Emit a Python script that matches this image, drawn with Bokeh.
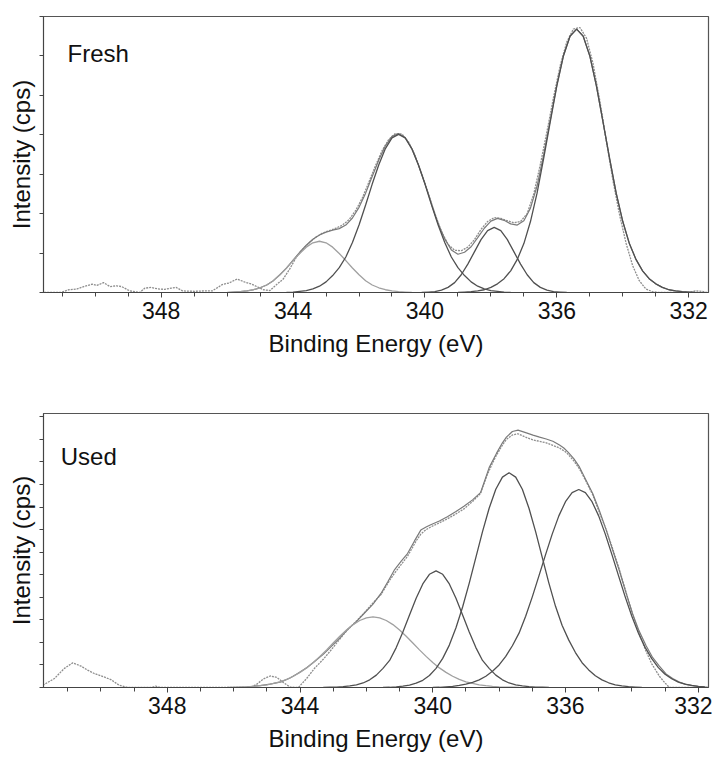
from bokeh.plotting import figure
from bokeh.layouts import column
from bokeh.models import Range1d, FixedTicker, Label
from bokeh.embed import file_html
from bokeh.resources import INLINE

FONT = "Liberation Sans"

# ---------------- data ----------------
x_major_ticks = [332, 336, 340, 344, 348]
x_minor_ticks = list(range(332, 352))
x_axis_title = "Binding Energy (eV)"
y_axis_title = "Intensity (cps)"
panel_names = ["Fresh", "Used"]


def grid(start, n, step=0.2):
    return [round(start - step * i, 2) for i in range(n)]


# Fresh sample: fitted components
fresh_A_y = [0.00, 0.01, 0.02, 0.04, 0.07, 0.13, 0.22, 0.35, 0.55, 0.84, 1.24, 1.80, 2.52, 3.40, 4.33, 5.24,
             6.00, 6.50, 6.68, 6.50, 6.00, 5.24, 4.33, 3.40, 2.52, 1.80, 1.24, 0.84, 0.55, 0.35, 0.22, 0.13,
             0.07, 0.04, 0.02, 0.01, 0.00]
fresh_A_x = grid(339.0, len(fresh_A_y))
fresh_B_y = [0.00, 0.01, 0.03, 0.05, 0.09, 0.16, 0.27, 0.43, 0.63, 0.90, 1.27, 1.71, 2.22, 2.75, 3.24, 3.65,
             3.92, 4.01, 3.92, 3.65, 3.24, 2.75, 2.22, 1.71, 1.27, 0.90, 0.63, 0.43, 0.27, 0.16, 0.09, 0.05,
             0.03, 0.01, 0.00]
fresh_B_x = grid(344.2, len(fresh_B_y))
fresh_C_y = [0.00, 0.01, 0.02, 0.06, 0.13, 0.25, 0.45, 0.72, 1.03, 1.34, 1.57, 1.65, 1.57, 1.34, 1.03, 0.72,
             0.45, 0.25, 0.13, 0.06, 0.02, 0.01, 0.00]
fresh_C_x = grid(340.1, len(fresh_C_y))
fresh_D_y = [0.00, 0.01, 0.02, 0.04, 0.07, 0.12, 0.19, 0.30, 0.45, 0.62, 0.81, 0.99, 1.15, 1.26, 1.30, 1.26,
             1.15, 0.99, 0.81, 0.62, 0.45, 0.30, 0.19, 0.12, 0.07, 0.04, 0.02, 0.01, 0.00]
fresh_D_x = grid(346.0, len(fresh_D_y))
# Fresh sample: fit envelope
fresh_env_y = [0.00, 0.01, 0.02, 0.04, 0.07, 0.12, 0.19, 0.30, 0.45, 0.62, 0.82, 1.02, 1.20, 1.35, 1.46, 1.53,
               1.58, 1.62, 1.71, 1.89, 2.16, 2.52, 2.94, 3.36, 3.72, 3.96, 4.03, 3.93, 3.65, 3.24, 2.76, 2.24,
               1.75, 1.36, 1.08, 0.97, 1.02, 1.16, 1.39, 1.63, 1.81, 1.88, 1.83, 1.74, 1.71, 1.82, 2.14, 2.70,
               3.49, 4.37, 5.26, 6.01, 6.50, 6.68, 6.50, 6.00, 5.24, 4.33, 3.40, 2.52, 1.80, 1.24, 0.84, 0.55,
               0.35, 0.22, 0.13, 0.07, 0.04, 0.02, 0.01, 0.00]
fresh_env_x = grid(346.0, len(fresh_env_y))
# Fresh sample: measured spectrum
fresh_exp_x = [351.55, 351.05, 350.80, 350.55, 350.35, 350.10, 349.95, 349.75, 349.55, 349.35, 349.20, 348.95,
               348.65, 348.50, 348.30, 348.10, 347.90, 347.70, 347.55, 347.35, 347.00, 346.70, 346.45, 346.15,
               345.95, 345.70, 345.45, 345.25, 345.00, 344.90, 344.70, 344.50, 344.30, 344.10, 343.90, 343.70,
               343.50, 343.30, 343.10, 342.90, 342.70, 342.50, 342.30, 342.10, 341.90, 341.70, 341.50, 341.30,
               341.10, 340.90, 340.70, 340.50, 340.30, 340.10, 339.90, 339.70, 339.50, 339.30, 339.10, 338.90,
               338.70, 338.50, 338.30, 338.10, 337.90, 337.70, 337.50, 337.30, 337.10, 336.90, 336.70, 336.50,
               336.30, 336.10, 335.90, 335.70, 335.50, 335.30, 335.10, 334.90, 334.70, 334.50, 334.30, 334.10,
               333.90, 333.70, 333.50, 333.30, 333.10, 332.90, 332.50, 332.00, 331.80, 331.60, 331.45]
fresh_exp_y = [0.00, 0.00, 0.07, 0.09, 0.15, 0.21, 0.18, 0.25, 0.15, 0.17, 0.15, 0.04,
               0.00, 0.11, 0.13, 0.09, 0.08, 0.11, 0.13, 0.04, 0.03, 0.04, 0.04, 0.20,
               0.24, 0.34, 0.26, 0.21, 0.11, 0.07, 0.05, 0.20, 0.34, 0.60, 0.90, 1.10,
               1.27, 1.41, 1.51, 1.57, 1.63, 1.71, 1.85, 2.08, 2.40, 2.80, 3.22, 3.60,
               3.88, 4.03, 4.02, 3.82, 3.48, 3.02, 2.52, 2.00, 1.55, 1.22, 1.07, 1.06,
               1.15, 1.34, 1.60, 1.80, 1.90, 1.88, 1.82, 1.77, 1.80, 2.00, 2.50, 3.25,
               4.08, 4.95, 5.75, 6.35, 6.68, 6.72, 6.45, 5.80, 4.88, 3.85, 2.85, 1.98,
               1.25, 0.68, 0.30, 0.09, 0.02, 0.00, 0.00, 0.00, 0.04, 0.03, 0.00]

# Used sample: fitted components
used_E1_y = [0.00, 0.01, 0.03, 0.05, 0.09, 0.15, 0.23, 0.34, 0.50, 0.72, 1.00, 1.38, 1.85, 2.41, 3.16, 4.02,
             4.95, 5.89, 6.80, 7.61, 8.24, 8.64, 8.78, 8.64, 8.24, 7.61, 6.80, 5.89, 4.95, 4.02, 3.16, 2.41,
             1.78, 1.28, 0.88, 0.59, 0.39, 0.24, 0.15, 0.09, 0.05, 0.03]
used_E1_x = grid(340.0, len(used_E1_y))
used_E2_y = [0.00, 0.01, 0.03, 0.06, 0.11, 0.19, 0.32, 0.53, 0.85, 1.29, 1.88, 2.65, 3.57, 4.63, 5.77, 6.91,
             7.95, 8.79, 9.33, 9.52, 9.33, 8.79, 7.95, 6.91, 5.77, 4.63, 3.60, 2.75, 2.10, 1.55, 1.10, 0.78,
             0.52, 0.34, 0.21, 0.12, 0.07, 0.04, 0.02, 0.00]
used_E2_x = grid(341.5, len(used_E2_y))
used_E3_y = [0.00, 0.01, 0.02, 0.04, 0.07, 0.12, 0.20, 0.34, 0.55, 0.85, 1.20, 1.77, 2.46, 3.21, 3.96, 4.59,
             5.02, 5.17, 5.02, 4.59, 3.96, 3.21, 2.46, 1.77, 1.20, 0.85, 0.55, 0.34, 0.20, 0.12, 0.07, 0.04,
             0.02, 0.01, 0.00]
used_E3_x = grid(343.3, len(used_E3_y))
used_E4_y = [0.00, 0.01, 0.02, 0.03, 0.05, 0.08, 0.12, 0.18, 0.25, 0.36, 0.50, 0.67, 0.87, 1.11, 1.38, 1.67,
             1.97, 2.27, 2.55, 2.79, 2.97, 3.09, 3.13, 3.09, 2.97, 2.79, 2.55, 2.27, 1.97, 1.67, 1.38, 1.11,
             0.87, 0.67, 0.50, 0.36, 0.25, 0.18, 0.12, 0.08, 0.05, 0.03, 0.02, 0.01, 0.00]
used_E4_x = grid(346.2, len(used_E4_y))
# Used sample: fit envelope
used_env_x = [346.0, 345.6, 345.2, 344.9, 344.57, 344.3, 344.07, 343.8, 343.57, 343.3, 343.07, 342.8, 342.57,
              342.3, 342.07, 341.8, 341.56, 341.35, 341.16, 340.95, 340.76, 340.55, 340.36, 340.2, 340.06,
              339.8, 339.56, 339.3, 339.06, 338.8, 338.56, 338.45, 338.3, 338.08, 337.9, 337.78, 337.6, 337.43,
              337.2, 336.98, 336.78, 336.58, 336.38, 336.18, 336.05, 335.93, 335.75, 335.58, 335.4, 335.18,
              334.98, 334.77, 334.58, 334.38, 334.18, 333.98, 333.78, 333.57, 333.37, 333.17, 332.97, 332.77,
              332.57, 332.37, 332.17, 331.97, 331.7]
used_env_y = [0.00, 0.03, 0.08, 0.15, 0.25, 0.42, 0.62, 0.88, 1.14, 1.47, 1.80, 2.20, 2.57,
              2.92, 3.28, 3.70, 4.17, 4.70, 5.20, 5.60, 5.94, 6.50, 6.98, 7.12, 7.22,
              7.38, 7.57, 7.80, 8.04, 8.32, 8.64, 9.10, 9.75, 10.38, 10.85, 11.10, 11.35, 11.41,
              11.30, 11.19, 11.10, 11.02, 10.92, 10.75, 10.62, 10.45, 10.15, 9.78, 9.25, 8.60,
              7.85, 6.98, 6.10, 5.20, 4.22, 3.28, 2.50, 1.85, 1.32, 0.95, 0.60, 0.40,
              0.24, 0.14, 0.08, 0.04, 0.01]
# Used sample: measured spectrum
used_exp_x = [351.75, 351.4, 351.1, 350.85, 350.6, 350.4, 350.2, 350.0, 349.7, 349.45, 349.2, 348.5, 348.35,
              348.2, 345.5, 345.3, 345.1, 344.9, 344.7, 344.5, 344.3, 344.05, 343.8, 343.57, 343.3, 343.07,
              342.8, 342.57, 342.3, 342.07, 341.8, 341.56, 341.3, 341.16, 340.9, 340.76, 340.5, 340.36, 340.2,
              340.06, 339.8, 339.56, 339.3, 339.06, 338.8, 338.56, 338.38, 338.2, 338.08, 337.9, 337.78, 337.6,
              337.43, 337.2, 336.98, 336.8, 336.58, 336.4, 336.18, 336.0, 335.93, 335.75, 335.58, 335.4,
              335.18, 335.0, 334.77, 334.6, 334.38, 334.2, 333.98, 333.8, 333.57, 333.4, 333.17, 333.0,
              332.87, 331.7]
used_exp_y = [0.10, 0.40, 0.85, 1.09, 0.95, 0.77, 0.62, 0.52, 0.35, 0.10, 0.00, 0.00, 0.06,
              0.00, 0.00, 0.15, 0.38, 0.51, 0.45, 0.22, 0.02, 0.00, 0.40, 0.84, 1.25, 1.65,
              2.15, 2.55, 2.95, 3.30, 3.75, 4.12, 4.75, 5.05, 5.55, 5.82, 6.50, 6.80, 7.00,
              7.12, 7.30, 7.48, 7.70, 7.92, 8.25, 8.60, 9.35, 9.95, 10.30, 10.75, 11.00, 11.20,
              11.25, 11.10, 10.98, 10.92, 10.85, 10.75, 10.62, 10.45, 10.35, 10.05, 9.70, 9.20,
              8.55, 7.85, 6.98, 6.25, 5.25, 4.35, 3.25, 2.45, 1.60, 1.05, 0.50, 0.20,
              0.00, 0.00]

# ---------------- styling / layout ----------------
COMP = "#505050"
COMP_LIGHT = "#a0a0a0"
ENV = "#7a7a7a"
EXP = "#8e8e8e"


def make_fig(width, height, xr, yr, ymax_tick, bl, br, bt, bb, title_standoff):
    p = figure(width=width, height=height, x_range=Range1d(*xr), y_range=Range1d(*yr),
               output_backend="svg", toolbar_location=None, tools="",
               min_border_left=bl, min_border_right=br, min_border_top=bt, min_border_bottom=bb)
    p.grid.visible = False
    p.outline_line_color = "#555555"
    p.outline_line_width = 1.2
    p.background_fill_color = "white"
    p.border_fill_color = "white"

    xa = p.xaxis[0]
    xa.ticker = FixedTicker(ticks=x_major_ticks, minor_ticks=x_minor_ticks)
    xa.axis_label = x_axis_title
    xa.axis_label_text_font = FONT
    xa.axis_label_text_font_size = "24px"
    xa.axis_label_text_font_style = "normal"
    xa.axis_label_text_color = "#111111"
    xa.axis_label_standoff = title_standoff
    xa.major_label_text_font = FONT
    xa.major_label_text_font_size = "23px"
    xa.major_label_text_color = "#111111"
    xa.major_label_standoff = 4
    xa.major_tick_in = 0
    xa.major_tick_out = 5
    xa.minor_tick_in = 0
    xa.minor_tick_out = 4
    xa.axis_line_color = "#444444"
    xa.major_tick_line_color = "#444444"
    xa.minor_tick_line_color = "#444444"

    # y axis: unlabelled ticks only (drawn as minor ticks so no tick labels exist)
    ya = p.yaxis[0]
    ya.ticker = FixedTicker(ticks=[], minor_ticks=list(range(0, ymax_tick + 1)))
    ya.axis_label = y_axis_title
    ya.axis_label_text_font = FONT
    ya.axis_label_text_font_size = "24px"
    ya.axis_label_text_font_style = "normal"
    ya.axis_label_text_color = "#111111"
    ya.axis_label_standoff = 5
    ya.major_label_standoff = 0
    ya.major_tick_in = 0
    ya.major_tick_out = 0
    ya.minor_tick_in = 0
    ya.minor_tick_out = 4
    ya.axis_line_color = "#444444"
    ya.minor_tick_line_color = "#444444"
    return p


# Top panel: Fresh
p1 = make_fig(712, 403, (351.57, 331.40), (0, 7.0), 7, 43, 2, 16, 111, 8)
p1.line(fresh_exp_x, fresh_exp_y, line_color=EXP, line_width=1.3, line_dash="2 1")
p1.line(fresh_env_x, fresh_env_y, line_color=ENV, line_width=1.2)
p1.line(fresh_D_x, fresh_D_y, line_color=COMP_LIGHT, line_width=1.3)
p1.line(fresh_C_x, fresh_C_y, line_color=COMP, line_width=1.3)
p1.line(fresh_B_x, fresh_B_y, line_color=COMP, line_width=1.3)
p1.line(fresh_A_x, fresh_A_y, line_color=COMP, line_width=1.3)
p1.add_layout(Label(x=350.84, y=6.07, text=panel_names[0], text_font=FONT, text_font_size="24px",
                    text_color="#111111", text_align="left", text_baseline="alphabetic"))

# Bottom panel: Used
p2 = make_fig(712, 357, (351.73, 331.69), (0, 12.15), 12, 43, 4, 10, 73, 8)
p2.line(used_exp_x, used_exp_y, line_color=EXP, line_width=1.3, line_dash="2 1")
p2.line(used_env_x, used_env_y, line_color=ENV, line_width=1.2)
p2.line(used_E4_x, used_E4_y, line_color=COMP_LIGHT, line_width=1.3)
p2.line(used_E3_x, used_E3_y, line_color=COMP, line_width=1.3)
p2.line(used_E2_x, used_E2_y, line_color=COMP, line_width=1.3)
p2.line(used_E1_x, used_E1_y, line_color=COMP, line_width=1.3)
p2.add_layout(Label(x=351.21, y=10.23, text=panel_names[1], text_font=FONT, text_font_size="24px",
                    text_color="#111111", text_align="left", text_baseline="alphabetic"))

layout = column(p1, p2, spacing=0)
open("out.html", "w").write(file_html(layout, INLINE))
